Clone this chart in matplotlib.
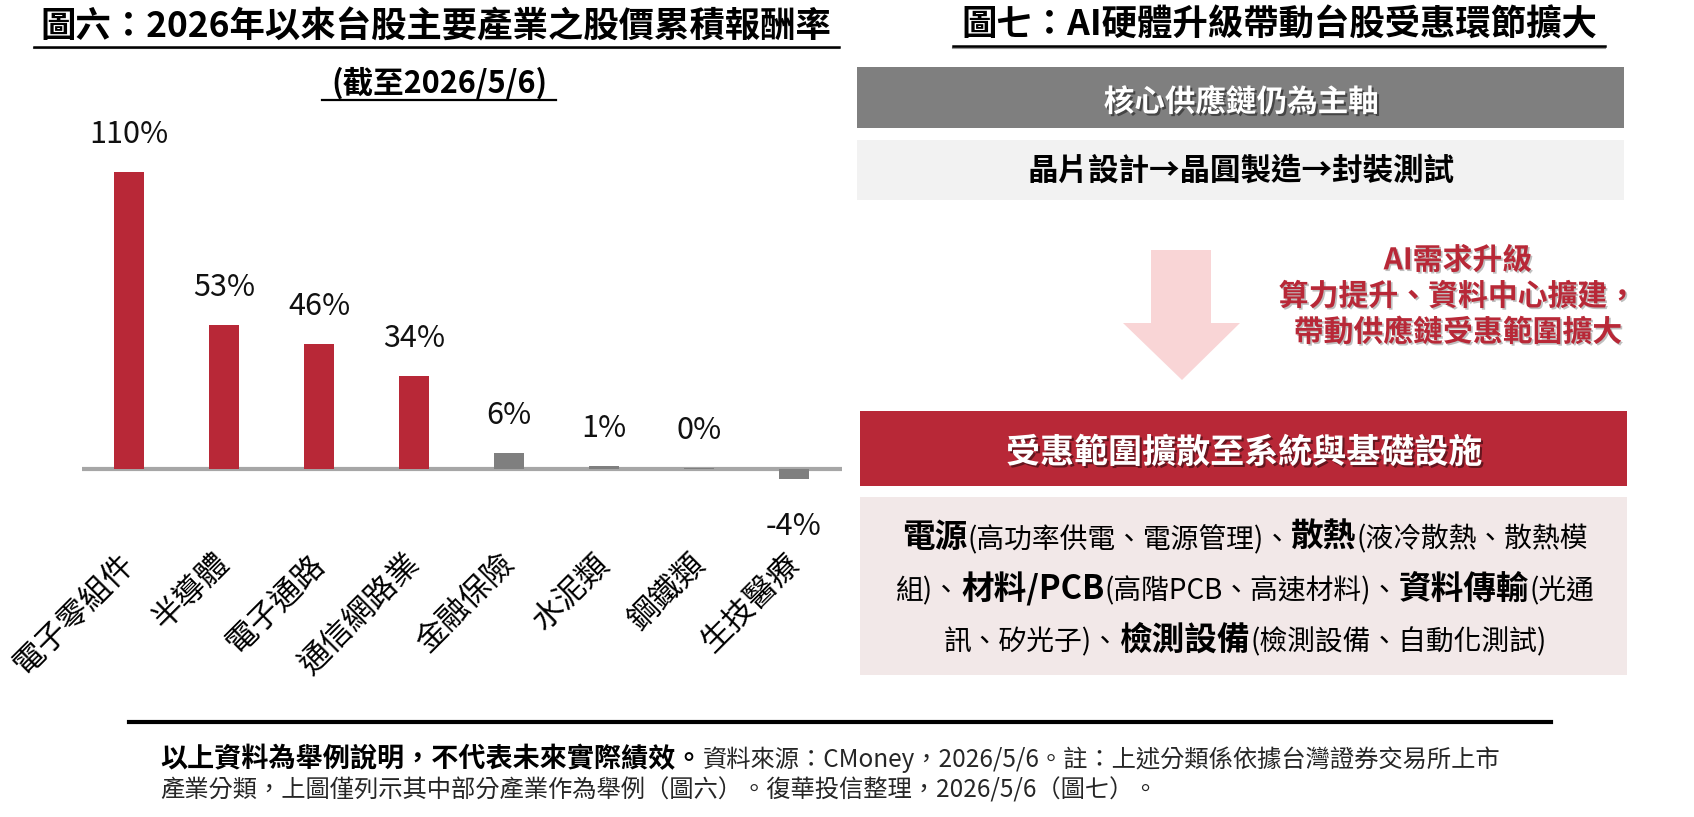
import matplotlib
matplotlib.use("Agg")
import matplotlib.pyplot as plt
import matplotlib.patheffects as pe
from matplotlib.patches import Rectangle, Polygon
import matplotlib.transforms as mtrans

plt.rcParams['font.family'] = ['Noto Sans CJK TC', 'DejaVu Sans']

# ---- data (圖六) ----
industries = ["電子零組件", "半導體", "電子通路", "通信網路業",
              "金融保險", "水泥類", "鋼鐵類", "生技醫療"]
returns = [110.0, 53.3, 46.4, 34.3, 6.0, 1.2, 0.2, -3.8]
bar_colors = ["#B82837"] * 4 + ["#7F7F7F"] * 4

title_left = "圖六：2026年以來台股主要產業之股價累積報酬率"
subtitle_left = "(截至2026/5/6)"
title_right = "圖七：AI硬體升級帶動台股受惠環節擴大"
box_core = "核心供應鏈仍為主軸"
box_chain = "晶片設計→晶圓製造→封裝測試"
ai_lines = ["AI需求升級", "算力提升、資料中心擴建，", "帶動供應鏈受惠範圍擴大"]
box_expand = "受惠範圍擴散至系統與基礎設施"
expand_lines = [
    [("電源", True), ("(高功率供電、電源管理)、", False), ("散熱", True), ("(液冷散熱、散熱模", False)],
    [("組)、", False), ("材料/PCB", True), ("(高階PCB、高速材料)、", False), ("資料傳輸", True), ("(光通", False)],
    [("訊、矽光子)、", False), ("檢測設備", True), ("(檢測設備、自動化測試)", False)],
]
footer_lines = [
    [("以上資料為舉例說明，不代表未來實際績效。", True),
     ("資料來源：CMoney，2026/5/6。註：上述分類係依據台灣證券交易所上市", False)],
    [("產業分類，上圖僅列示其中部分產業作為舉例（圖六）。復華投信整理，2026/5/6（圖七）。", False)],
]

W, H = 1694, 817
fig = plt.figure(figsize=(W / 100, H / 100), dpi=100)

# background axes in pixel coordinates
bg = fig.add_axes([0, 0, 1, 1])
bg.set_xlim(0, W)
bg.set_ylim(H, 0)
bg.axis("off")

# ---- bar chart ----
ax = fig.add_axes([81.5 / W, (H - 555) / H, 760 / W, 435 / H])
x = list(range(len(industries)))
ax.bar(x, returns, width=0.32, color=bar_colors, zorder=2)
ax.axhline(0, color="#A6A6A6", lw=3.0, zorder=1)
ax.set_xlim(-0.5, 7.5)
ax.set_ylim(-31.85, 129.3)
ax.set_yticks([])
for s in ax.spines.values():
    s.set_visible(False)
ax.set_xticks(x)
ax.set_xticklabels(industries, rotation=45, ha="right", va="center",
                   rotation_mode="anchor", fontsize=22.5)
ax.tick_params(axis="x", length=0, pad=3)
shift = mtrans.ScaledTranslation(1 / 100, 0, fig.dpi_scale_trans)
for lab in ax.get_xticklabels():
    lab.set_transform(lab.get_transform() + shift)

for xi, v in zip(x, returns):
    txt = "{:.0f}%".format(v)
    if v >= 0:
        ax.annotate(txt, (xi, v), xytext=(0, 21), textcoords="offset points",
                    ha="center", va="baseline", fontsize=22, color="#111111")
    else:
        ax.annotate(txt, (xi, v), xytext=(0, -40), textcoords="offset points",
                    ha="center", va="baseline", fontsize=22, color="#111111")

# ---- titles ----
bg.text(436, 37, title_left, fontsize=25.5, fontweight="bold", ha="center", va="baseline")
bg.plot([34, 839], [48, 48], color="#999999", lw=1.5)
bg.plot([34, 839], [46.5, 46.5], color="black", lw=1.8)
bg.text(439, 93, subtitle_left, fontsize=22, fontweight="bold", ha="center", va="baseline")
bg.plot([322, 556], [100, 100], color="black", lw=1.6)

bg.text(1279, 36, title_right, fontsize=25.5, fontweight="bold", ha="center", va="baseline")
bg.plot([953, 1605], [47.5, 47.5], color="#999999", lw=1.5)
bg.plot([953, 1605], [46, 46], color="black", lw=1.8)

shadow = [pe.withSimplePatchShadow(offset=(1.5, -1.5), shadow_rgbFace="black", alpha=0.45)]

# core supply chain boxes
bg.add_patch(Rectangle((857, 67), 767, 61, color="#7F7F7F", lw=0))
bg.text(1241, 100 + 0.38 * 30, box_core, fontsize=22, fontweight="bold", color="white",
        ha="center", va="baseline", path_effects=shadow)
bg.add_patch(Rectangle((857, 140), 767, 60, color="#F2F2F2", lw=0))
bg.text(1241, 168 + 0.38 * 30, box_chain, fontsize=22, fontweight="bold", color="black",
        ha="center", va="baseline")

# arrow
bg.add_patch(Polygon([(1151, 250), (1211, 250), (1211, 323), (1240, 323),
                      (1182, 380), (1123, 323), (1151, 323)],
                     closed=True, color="#F9D5D6", lw=0))
red_shadow = [pe.withSimplePatchShadow(offset=(1.2, -1.2), shadow_rgbFace="black", alpha=0.25)]
for yc, line in zip([258, 294, 330], ai_lines):
    bg.text(1458, yc + 0.38 * 30, line, fontsize=21.5, fontweight="bold", color="#B82837",
            ha="center", va="baseline", path_effects=red_shadow)

# expanded scope boxes
bg.add_patch(Rectangle((860, 411), 767, 75, color="#B82837", lw=0))
bg.text(1244, 450 + 0.38 * 34, box_expand, fontsize=24.5, fontweight="bold", color="white",
        ha="center", va="baseline", path_effects=shadow)
bg.add_patch(Rectangle((860, 497), 767, 178, color="#F2E8E8", lw=0))

renderer = fig.canvas.get_renderer()


def rich_line(x0, y_base, segments, size_b, size_r, align="center", color_r="black"):
    texts = []
    for s, bold in segments:
        t = bg.text(0, y_base, s, fontsize=size_b if bold else size_r,
                    fontweight="bold" if bold else "normal",
                    color="black" if bold else color_r, ha="left", va="baseline")
        texts.append(t)
    widths = [t.get_window_extent(renderer).width for t in texts]
    total = sum(widths)
    cur = x0 - total / 2 if align == "center" else x0
    for t, w in zip(texts, widths):
        t.set_x(cur)
        cur += w


for yb, segs in zip([547, 599, 650], expand_lines):
    rich_line(1245, yb, segs, 23.5, 20)

# footer
bg.plot([129, 1551], [722, 722], color="black", lw=3)
for yb, segs in zip([767, 797], footer_lines):
    rich_line(160, yb, segs, 19.5, 17.5, align="left", color_r="#262626")

fig.savefig("out.png", dpi=100)
